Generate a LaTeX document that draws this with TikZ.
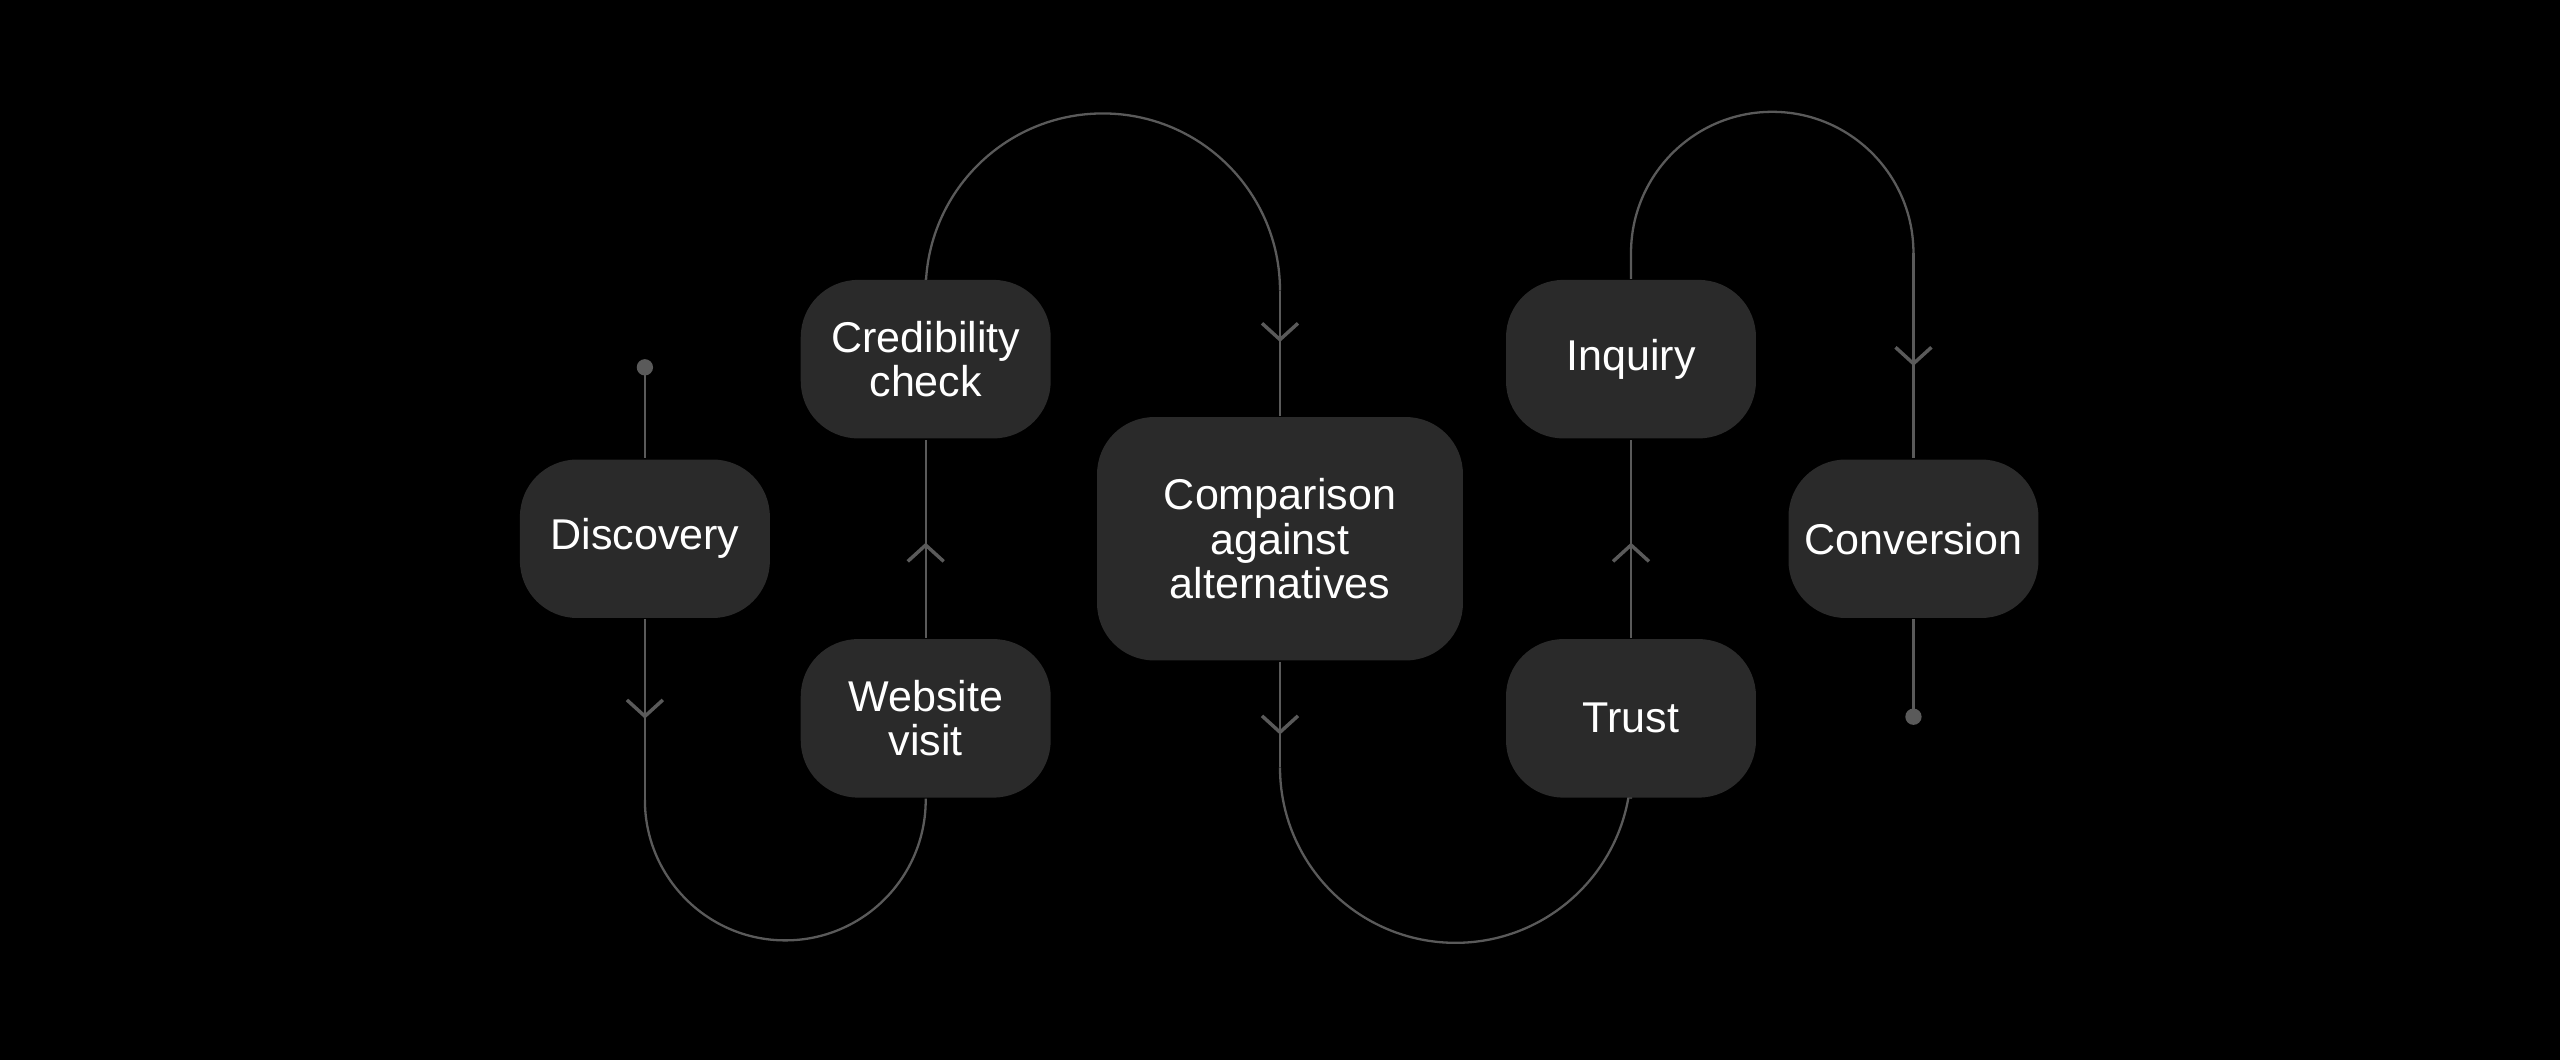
\documentclass[tikz,border=0pt]{standalone}
\usepackage{fontspec}
\setmainfont{Liberation Sans}
\usetikzlibrary{arrows.meta,decorations.markings}
\definecolor{boxgray}{HTML}{2A2A2A}
\definecolor{linegray}{HTML}{5A5A5A}
\pgfdeclarelayer{back}
\pgfdeclarelayer{bg}
\pgfsetlayers{back,bg,main}
\tikzset{
    stage/.style={rectangle, rounded corners=0.35cm, fill=boxgray, text=white,
        minimum width=1.53cm, minimum height=0.97cm, align=center, inner sep=0pt,
        font=\fontsize{7.5}{7.7}\selectfont},
    flow/.style={draw=linegray, line width=0.4pt},
    chev/.style={postaction={decorate}, decoration={markings,
        mark=at position #1 with {\arrow[linegray, line width=0.6pt]{Straight Barb[length=0.1cm,width=0.22cm]}}}}
}
\begin{document}
\begin{tikzpicture}[x=0.01cm, y=0.01cm]
    \begin{pgfonlayer}{back}
    \fill[black] (0,0) rectangle (1568,649);
    \end{pgfonlayer}
    \useasboundingbox (0,0) rectangle (1568,649);

    \node (discovery) [stage] at (395, 319) {Discovery};
    \node (credibility) [stage] at (567, 429) {Credibility\\check};
    \node (website) [stage] at (567, 209) {Website\\visit};
    \node (comparison) [stage, minimum width=2.24cm, minimum height=1.49cm] at (784, 319)
    {
        Comparison\\against\\alternatives
    };
    \node (inquiry) [stage] at (999, 429) {Inquiry};
    \node (trust) [stage] at (999, 209) {Trust};
    \node (conversion) [stage] at (1172, 319) {Conversion};

    \coordinate (start) at (395, 424);
    \coordinate (finish) at (1172, 210);
    \coordinate (dip_a) at (395, 159);
    \coordinate (top_a) at (567, 471);
    \coordinate (top_b) at (784, 471);
    \coordinate (dip_b) at (784, 179);
    \coordinate (top_c) at (999, 494);
    \coordinate (top_d) at (1172, 494);

    \begin{pgfonlayer}{bg}
    \draw[flow] (start) -- (discovery);
    \draw[flow, chev=0.55] (discovery.south) -- (dip_a);
    \draw[flow] (dip_a) arc[start angle=180, end angle=360, radius=86] -- (website.south);
    \draw[flow, chev=0.48] (website.north) -- (credibility.south);
    \draw[flow] (credibility.north) -- (top_a) arc[start angle=180, end angle=0, radius=108.5];
    \draw[flow, chev=0.41] (top_b) -- (comparison.north);
    \draw[flow, chev=0.69] (comparison.south) -- (dip_b);
    \draw[flow] (dip_b) arc[start angle=180, end angle=360, radius=107.5] -- (trust.south);
    \draw[flow, chev=0.48] (trust.north) -- (inquiry.south);
    \draw[flow] (inquiry.north) -- (top_c) arc[start angle=180, end angle=0, radius=86.5];
    \draw[flow, chev=0.55] (top_d) -- (conversion.north);
    \draw[flow] (conversion.south) -- (finish);
    \end{pgfonlayer}

    \fill[linegray] (start) circle (5);
    \fill[linegray] (finish) circle (5);
\end{tikzpicture}
\end{document}
